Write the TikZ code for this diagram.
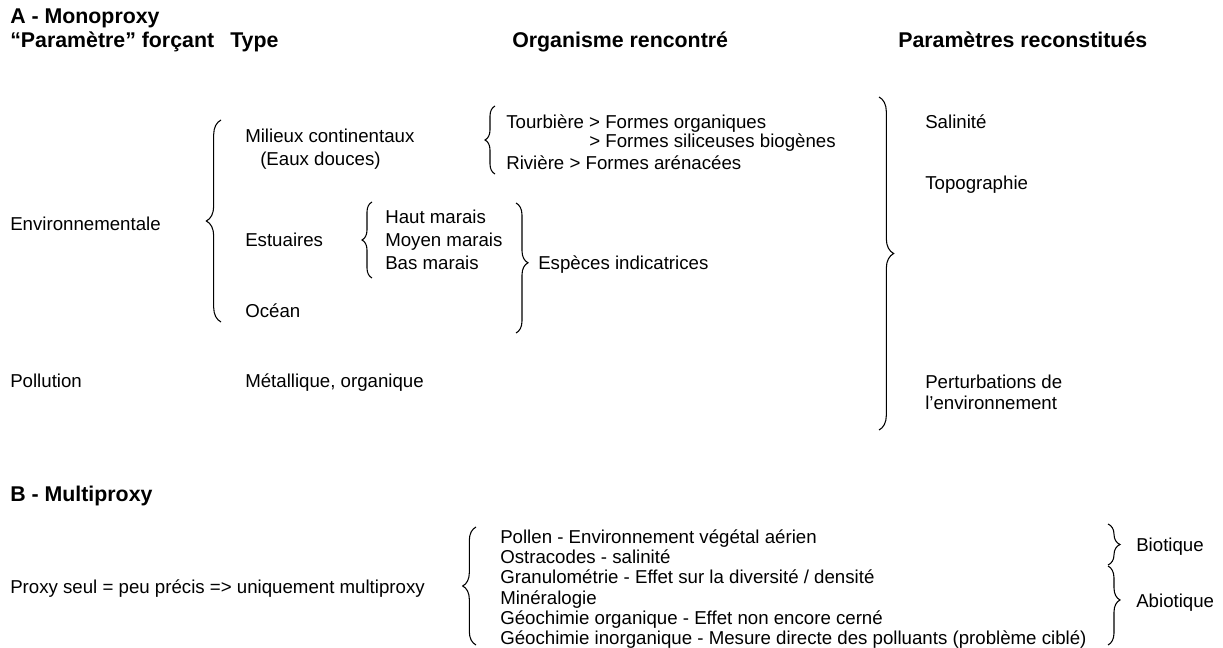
\documentclass[tikz,border=0pt]{standalone}
\usepackage{fontspec}
\setmainfont{Liberation Sans}
\usetikzlibrary{decorations.pathreplacing}
\begin{document}
\begin{tikzpicture}[x=0.75pt,y=-0.75pt,
	txt/.style={anchor=base west,inner sep=0pt,font=\fontsize{14}{17}\selectfont},
	head/.style={txt,font=\fontsize{16}{19}\selectfont\bfseries},
	brc/.style={decorate,decoration={brace,amplitude=#1},line width=0.8pt},
	brc/.default=7.5pt]
	\useasboundingbox (0,0) rectangle (1223,648);
	% A - Monoproxy
	\node[head] (titA) at (10,24) {A - Monoproxy};
	\node[head] (hForc) at (10,48) {“Paramètre” forçant};
	\node[head] (hType) at (230,48) {Type};
	\node[head] (hOrg) at (512,48) {Organisme rencontré};
	\node[head] (hPar) at (898,48) {Paramètres reconstitués};
	\node[txt] (env) at (10,231) {Environnementale};
	\node[txt] (poll) at (10,387) {Pollution};
	\node[txt] (mil) at (245,143) {Milieux continentaux};
	\node[txt] (eaux) at (260,166) {(Eaux douces)};
	\node[txt] (est) at (245,247) {Estuaires};
	\node[txt] (oce) at (245,318) {Océan};
	\node[txt] (met) at (245,387) {Métallique, organique};
	\node[txt] (haut) at (385,224) {Haut marais};
	\node[txt] (moy) at (385,247) {Moyen marais};
	\node[txt] (bas) at (385,270) {Bas marais};
	\node[txt] (tou) at (506,129) {Tourbière > Formes organiques};
	\node[txt] (sil) at (506,148) {\phantom{Tourbière }> Formes siliceuses biogènes};
	\node[txt] (riv) at (506,170) {Rivière > Formes arénacées};
	\node[txt] (esp) at (538,270) {Espèces indicatrices};
	\node[txt] (sal) at (925,129) {Salinité};
	\node[txt] (topo) at (925,190) {Topographie};
	\node[txt] (pert) at (925,388) {Perturbations de};
	\node[txt] (lenv) at (925,409) {l’environnement};
	\draw[brc=11pt] (221,322)--(221,120);
	\draw[brc] (495,174)--(495,106);
	\draw[brc] (372,278)--(372,202);
	\draw[brc=9pt,decoration={aspect=0.46}] (516,203)--(516,333);
	\draw[brc=11pt,decoration={aspect=0.47}] (879,97)--(879,430);
	% B - Multiproxy
	\node[head] (titB) at (10,501) {B - Multiproxy};
	\node[txt] (seul) at (10,593) {Proxy seul = peu précis => uniquement multiproxy};
	\node[txt] (pol) at (500,543) {Pollen - Environnement végétal aérien};
	\node[txt] (ost) at (500,563) {Ostracodes - salinité};
	\node[txt] (gra) at (500,583) {Granulométrie - Effet sur la diversité / densité};
	\node[txt] (min) at (500,604) {Minéralogie};
	\node[txt] (gorg) at (500,624) {Géochimie organique - Effet non encore cerné};
	\node[txt] (ginorg) at (500,644) {Géochimie inorganique - Mesure directe des polluants (problème ciblé)};
	\node[txt] (bio) at (1136,551) {Biotique};
	\node[txt] (abio) at (1136,607) {Abiotique};
	\draw[brc=10pt] (476,645)--(476,527);
	\draw[brc=9pt] (1108,524)--(1108,565);
	\draw[brc=9pt,decoration={aspect=0.43}] (1108,566)--(1108,645);
\end{tikzpicture}
\end{document}
